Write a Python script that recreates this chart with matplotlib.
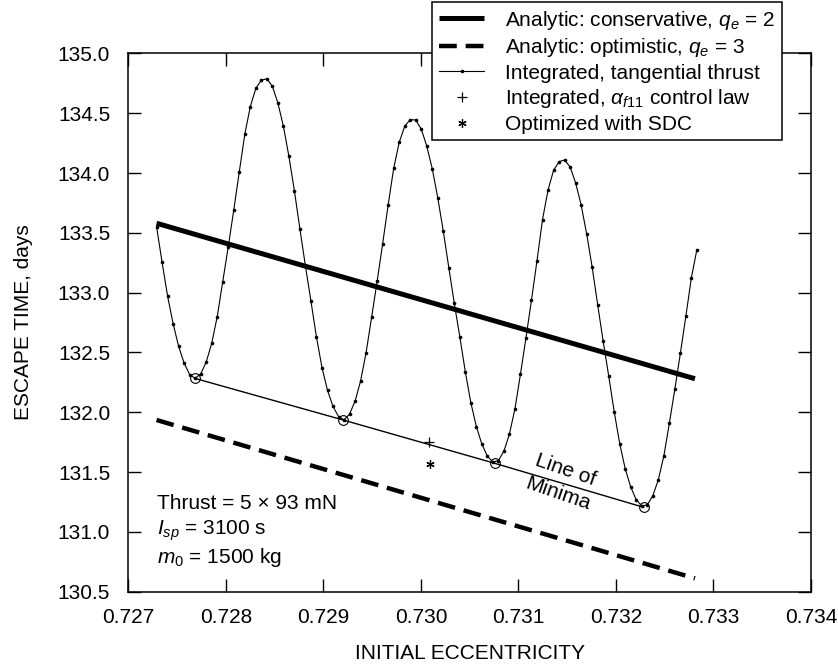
import matplotlib
matplotlib.use("Agg")
import matplotlib.pyplot as plt
import numpy as np

plt.rcParams["font.family"] = ["Liberation Sans", "DejaVu Sans"]
plt.rcParams["font.size"] = 15
plt.rcParams["mathtext.fontset"] = "custom"
plt.rcParams["mathtext.rm"] = "Liberation Sans"
plt.rcParams["mathtext.it"] = "Liberation Sans:italic"
plt.rcParams["mathtext.bf"] = "Liberation Sans:bold"

# integrated escape time, tangential thrust (one sample per eccentricity step)
ecc = np.linspace(0.72729, 0.73283, 99)
escape_days = [
    133.551, 133.253, 132.970, 132.740, 132.550, 132.410, 132.315,
    132.283, 132.321, 132.419, 132.577, 132.799, 133.092, 133.384,
    133.691, 134.010, 134.324, 134.556, 134.708, 134.776,
    134.788, 134.726, 134.586, 134.392, 134.139, 133.850, 133.531,
    133.222, 132.928, 132.628, 132.373, 132.183, 132.048, 131.964,
    131.936, 131.985, 132.092, 132.261, 132.498, 132.794, 133.094,
    133.407, 133.733, 134.038, 134.256, 134.390, 134.447,
    134.443, 134.368, 134.226, 134.036, 133.792, 133.515, 133.209,
    132.910, 132.630, 132.337, 132.079, 131.880, 131.733, 131.632, 131.584,
    131.596, 131.675, 131.818, 132.029, 132.319, 132.623, 132.939,
    133.268, 133.611, 133.858, 134.022, 134.095,
    134.109, 134.051, 133.918, 133.734, 133.492, 133.214, 132.899,
    132.593, 132.304, 132.005, 131.737, 131.527, 131.374, 131.268, 131.216,
    131.226, 131.301, 131.435, 131.633, 131.907, 132.194, 132.492,
    132.803, 133.126, 133.360,
]

# local minima of the integrated curve
min_ecc = [0.727683, 0.729203, 0.730757, 0.732284]
min_days = [132.283, 131.935, 131.573, 131.205]

# analytic estimates
analytic_ecc = [0.72729, 0.73281]
conservative_days = [133.58, 132.28]
optimistic_days = [131.935, 130.611]

# single runs
f11_ecc, f11_days = 0.73008, 131.748
sdc_ecc, sdc_days = 0.73009, 131.567

xticks = [0.727, 0.728, 0.729, 0.730, 0.731, 0.732, 0.733, 0.734]
yticks = [130.5, 131.0, 131.5, 132.0, 132.5, 133.0, 133.5, 134.0, 134.5, 135.0]

fig = plt.figure(figsize=(8.38, 6.72), dpi=100)
ax = fig.add_axes([0.1531, 0.1196, 0.8147, 0.8009])

h_cons, = ax.plot(analytic_ecc, conservative_days, color="black", lw=3.6,
                  solid_capstyle="butt")
h_opt, = ax.plot(analytic_ecc, optimistic_days, color="black", lw=3.2,
                 ls=(0, (4.0, 2.0)), dash_capstyle="butt")
h_tan, = ax.plot(ecc, escape_days, color="black", lw=0.8, marker="o",
                 markersize=1.6)
ax.plot(min_ecc, min_days, color="black", lw=1.0, marker="o", markersize=7,
        markerfacecolor="none", markeredgewidth=0.8)
h_f11, = ax.plot([f11_ecc], [f11_days], ls="none", marker="+",
                 markersize=7, markeredgewidth=0.9, color="black")
h_sdc, = ax.plot([sdc_ecc], [sdc_days], ls="none", marker=(6, 2, 0),
                 markersize=6, markeredgewidth=0.9, color="black")

ax.text(0.731444, 131.416, "Line of\nMinima", rotation=-19,
        ha="center", va="center", multialignment="center", linespacing=1.4,
        rotation_mode="anchor")

ax.text(0.727291, 131.188, "Thrust = 5 \u00d7 93 mN", va="baseline")
ax.text(0.727291, 130.979, "$I_{sp}$ = 3100 s", va="baseline")
ax.text(0.727291, 130.737, "$m_0$ = 1500 kg", va="baseline")

ax.set_xlim(0.727, 0.734)
ax.set_ylim(130.5, 135.0)
ax.set_xticks(xticks)
ax.set_xticklabels(["%.3f" % t for t in xticks])
ax.set_yticks(yticks)
ax.set_yticklabels(["%.1f" % t for t in yticks])
ax.tick_params(direction="in", length=9.4, width=1.0, top=True, right=True)
ax.tick_params(axis="x", pad=12)
ax.tick_params(axis="y", pad=13)
for s in ax.spines.values():
    s.set_linewidth(1.1)

ax.set_xlabel("INITIAL ECCENTRICITY", labelpad=12)
ax.set_ylabel("ESCAPE TIME, days", labelpad=18)

leg = fig.legend(
    [h_cons, h_opt, h_tan, h_f11, h_sdc],
    ["Analytic: conservative, $q_e$ = 2",
     "Analytic: optimistic, $q_e$ = 3",
     "Integrated, tangential thrust",
     r"Integrated, $\alpha_{f11}$ control law",
     "Optimized with SDC"],
    loc="upper right", bbox_to_anchor=(792 / 838, 1.012),
    numpoints=1, handlelength=2.2, handletextpad=1.0, labelspacing=0.22,
    borderpad=0.3, fancybox=False, framealpha=1, edgecolor="black",
)
leg.get_frame().set_linewidth(1.1)

fig.savefig("out.png", dpi=100)
